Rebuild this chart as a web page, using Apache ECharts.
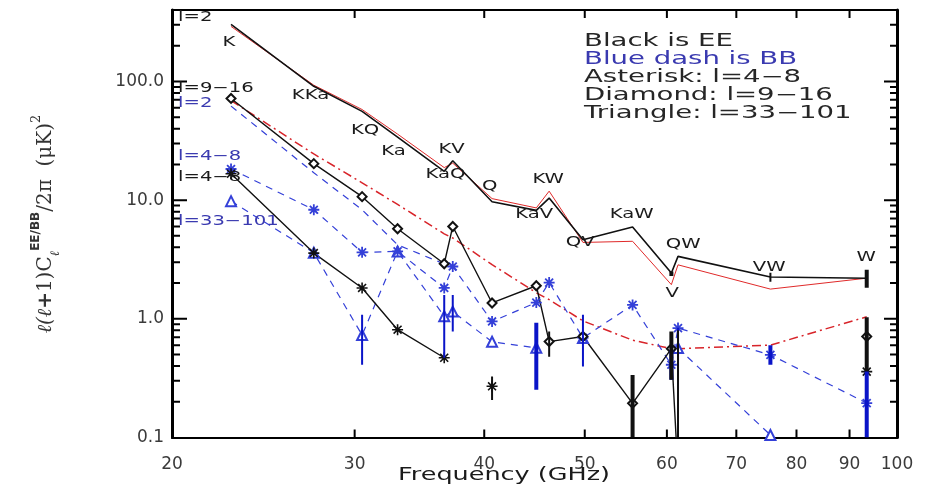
<!DOCTYPE html>
<html>
<head>
<meta charset="utf-8">
<script src="https://cdn.jsdelivr.net/npm/echarts@6/dist/echarts.min.js"></script>
<style>
html,body{margin:0;padding:0;background:#fff;}
#chart{width:938px;height:495px;}
</style>
</head>
<body>
<div id="chart"></div>
<script>
// Cross-spectrum band pairs and their effective frequencies (GHz)
const bands = ['K','KKa','KQ','Ka','KaQ','KV','Q','KaV','KW','QV','KaW','V','QW','VW','W'];
const freqs = [22.8, 27.4, 30.5, 33.0, 36.6, 37.3, 40.7, 44.9, 46.2, 49.8, 55.6, 60.6, 61.5, 75.5, 93.5];

// EE, l=2 (black) and its companion curve (thin red)
const eeL2    = [303, 91, 56, 34, 17.5, 21.5, 9.7, 8.2, 10.4, 4.64, 5.94, 2.43, 3.36, 2.25, 2.20];
const eeL2Red = [291, 93, 58, 36, 18.8, 20.5, 10.3, 8.6, 11.9, 4.4, 4.5, 1.94, 2.85, 1.78, 2.20];
// red dash-dot reference curve
const refCurve = [69, 24.5, 14.0, 9.2, 5.2, 4.8, 2.86, 1.66, 1.45, 0.96, 0.66, 0.56, 0.56, 0.60, 1.04];
// EE, l=9-16 (diamonds) and l=4-8 (asterisks); null = not plotted
const eeL916 = [71.9, 20.3, 10.7, 5.74, 2.91, 6.0, 1.36, 1.9, 0.643, 0.71, 0.194, 0.56, 0.05, null, 0.71];
const eeL48  = [16.7, 3.58, 1.82, 0.81, 0.47, null, 0.27, null, null, null, null, null, null, null, 0.359];
// BB (blue dashed): l=2, l=4-8 (asterisks), l=33-101 (triangles)
const bbL2    = [62, 17, 8.3, 4.2, 2.9, 2.76, null, null, null, null, null, null, null, null, null];
const bbL48   = [18.3, 8.3, 3.63, 3.70, 1.82, 2.76, 0.95, 1.37, 2.02, 0.69, 1.31, 0.41, 0.835, 0.497, 0.195];
const bbL33   = [9.8, 3.6, 0.73, 3.7, 1.05, 1.15, 0.64, 0.57, null, 0.69, null, null, 0.567, 0.105, null];

// error bars: [frequency, low, high]
const bbErrThin  = [[30.5,0.41,1.08],[36.6,0.47,1.59],[37.3,0.78,1.59],[49.8,0.396,1.08],[61.5,0.252,0.84]];
const bbErrThick = [[44.9,0.252,0.925],[60.6,0.306,0.547],[75.5,0.41,0.60],[93.5,0.1,0.364]];
const eeErrThin  = [[40.7,0.207,0.326],[46.2,0.48,0.78],[61.5,0.1,0.8],[75.5,2.05,2.44]];
const eeErrThick = [[55.6,0.1,0.337],[60.6,0.306,0.78],[93.5,0.36,1.03],[93.5,1.83,2.59],[60.6,2.3,2.5]];

// axis ranges, ticks and labels
const xRange  = [20, 100];
const yRange  = [0.1, 400];
const xLabels = [20, 30, 40, 50, 60, 70, 80, 90, 100];
const xTicks  = [30, 40, 50, 60, 70, 80, 90];
const yMajor  = [0.1, 1, 10, 100];
const yMinor  = [0.2,0.3,0.4,0.5,0.6,0.7,0.8,0.9, 2,3,4,5,6,7,8,9, 20,30,40,50,60,70,80,90, 200,300];

// text annotations: [text, frequency, value, colour key, align]
const annotations = [
  ['l=2', 20.27, 347, 'k', 'left'],
  ['l=9\u221216', 20.27, 87.3, 'k', 'left'],
  ['l=2', 20.27, 65.2, 'b', 'left'],
  ['l=4\u22128', 20.27, 23.3, 'b', 'left'],
  ['l=4\u22128', 20.27, 15.5, 'k', 'left'],
  ['l=33\u2212101', 20.27, 6.59, 'b', 'left'],
  ['K', 22.7, 213, 'k', 'center'],
  ['KKa', 27.2, 76.2, 'k', 'center'],
  ['KQ', 30.7, 38.6, 'k', 'center'],
  ['Ka', 32.7, 25.6, 'k', 'center'],
  ['KV', 37.2, 26.7, 'k', 'center'],
  ['KaQ', 36.7, 16.4, 'k', 'center'],
  ['Q', 40.5, 13.0, 'k', 'center'],
  ['KW', 46.1, 14.9, 'k', 'center'],
  ['KaV', 44.7, 7.55, 'k', 'center'],
  ['QV', 49.5, 4.37, 'k', 'center'],
  ['KaW', 55.5, 7.55, 'k', 'center'],
  ['QW', 62.2, 4.21, 'k', 'center'],
  ['V', 60.7, 1.63, 'k', 'center'],
  ['VW', 75.3, 2.69, 'k', 'center'],
  ['W', 93.4, 3.27, 'k', 'center']
];

const legendLines = [
  ['Black is EE', 'k'],
  ['Blue dash is BB', 'b'],
  ['Asterisk: l=4\u22128', 'k'],
  ['Diamond: l=9\u221216', 'k'],
  ['Triangle: l=33\u2212101', 'k']
];

const BLACK = '#111111', BLUE = '#3440d8', BLUE_TXT = '#3a3ab0', RED = '#e02a2a';
const ASTERISK = 'path://M5 0L5 10M0 5L10 5M1.4 1.4L8.6 8.6M1.4 8.6L8.6 1.4';
const FONT = 'DejaVu Sans, sans-serif';
const W = 938, H = 495;
const GRID = { left: 172, right: 41, top: 10, bottom: 57.5 };

const pair = vals => freqs.map((f, i) => [f, vals[i] == null ? '-' : vals[i]]);

function lineSeries(name, vals, o) {
  return Object.assign({
    name, type: 'line', data: pair(vals), connectNulls: false, clip: true,
    symbol: 'none', z: 3
  }, o);
}

// vertical segments: rows of [x, yLow, yHigh]
function errSeries(name, rows, color, width) {
  return {
    name, type: 'custom', data: rows, clip: true, z: 4,
    encode: { x: 0, y: [1, 2] },
    renderItem(params, api) {
      const a = api.coord([api.value(0), api.value(2)]);
      const b = api.coord([api.value(0), api.value(1)]);
      return { type: 'line', shape: { x1: a[0], y1: a[1], x2: b[0], y2: b[1] },
               style: { stroke: color, lineWidth: width } };
    }
  };
}

// inward tick marks, drawn as broken polylines through the axis scales;
// a pixel length becomes a factor along each log axis
const xDecPerPx = Math.log10(xRange[1] / xRange[0]) / (W - GRID.left - GRID.right);
const yDecPerPx = Math.log10(yRange[1] / yRange[0]) / (H - GRID.top - GRID.bottom);
const yFac = px => Math.pow(10, px * yDecPerPx);
const xFac = px => Math.pow(10, px * xDecPerPx);

const tickPath = [];
function addSeg(a, b) { tickPath.push(a, b, [b[0], '-']); }
xTicks.forEach(f => {
  addSeg([f, yRange[0]], [f, yRange[0] * yFac(8)]);
  addSeg([f, yRange[1] / yFac(8)], [f, yRange[1]]);
});
yMajor.slice(1).forEach(v => {
  addSeg([xRange[0], v], [xRange[0] * xFac(15), v]);
  addSeg([xRange[1] / xFac(13), v], [xRange[1], v]);
});
yMinor.forEach(v => {
  addSeg([xRange[0], v], [xRange[0] * xFac(8), v]);
  addSeg([xRange[1] / xFac(7), v], [xRange[1], v]);
});

const logX = (extra) => Object.assign({
  type: 'log', logBase: 10, min: xRange[0], max: xRange[1], splitLine: { show: false },
  minorTick: { show: false }, axisTick: { show: false }
}, extra);
const logY = (extra) => Object.assign({
  type: 'log', logBase: 10, min: yRange[0], max: yRange[1], splitLine: { show: false },
  minorTick: { show: false }, axisTick: { show: false }
}, extra);

const chart = echarts.init(document.getElementById('chart'));
chart.setOption({
  animation: false,
  backgroundColor: '#ffffff',
  grid: Object.assign({ containLabel: false, outerBoundsMode: 'none' }, GRID),
  xAxis: [
    logX({ position: 'bottom',
      axisLine: { show: true, lineStyle: { color: '#000', width: 2 } },
      axisLabel: { show: true, customValues: xLabels, margin: 19, color: '#3a3a3a', fontSize: 17, fontFamily: FONT,
                   formatter: v => String(Math.round(v)) } }),
    logX({ position: 'top',
      axisLine: { show: true, lineStyle: { color: '#000', width: 2 } },
      axisLabel: { show: false } })
  ],
  yAxis: [
    logY({ position: 'left',
      axisLine: { show: true, lineStyle: { color: '#000', width: 3 } },
      axisLabel: { show: true, customValues: yMajor, margin: 8, color: '#3a3a3a', fontSize: 17, fontFamily: FONT,
                   formatter: v => (v < 0.5 ? '0.1' : Number(v).toFixed(1)) } }),
    logY({ position: 'right',
      axisLine: { show: true, lineStyle: { color: '#000', width: 3 } },
      axisLabel: { show: false } })
  ],
  series: [
    { name: 'frame ticks', type: 'line', data: tickPath, connectNulls: false, clip: false,
      symbol: 'none', z: 5, silent: true, lineStyle: { color: '#000', width: 2 } },
    lineSeries('EE l=2 (companion)', eeL2Red, { lineStyle: { color: RED, width: 1 } }),
    lineSeries('EE l=2', eeL2, { lineStyle: { color: BLACK, width: 1.6 } }),
    lineSeries('Reference curve', refCurve, { lineStyle: { color: '#d8242a', width: 1.5, type: [9, 4, 2, 4] } }),
    lineSeries('BB l=2', bbL2, { lineStyle: { color: BLUE, width: 1.2, type: [7, 6] } }),
    lineSeries('BB l=33-101', bbL33, { symbol: 'emptyTriangle', symbolSize: 10,
      itemStyle: { color: BLUE, borderWidth: 1.3 }, lineStyle: { color: BLUE, width: 1.2, type: [7, 6] } }),
    lineSeries('BB l=4-8', bbL48, { symbol: ASTERISK, symbolSize: 11, symbolKeepAspect: true,
      itemStyle: { color: BLUE, borderColor: BLUE, borderWidth: 1.8 }, lineStyle: { color: BLUE, width: 1.2, type: [7, 6] } }),
    lineSeries('EE l=9-16', eeL916, { symbol: 'emptyDiamond', symbolSize: 9,
      itemStyle: { color: BLACK, borderWidth: 1.3 }, lineStyle: { color: BLACK, width: 1.4 } }),
    lineSeries('EE l=4-8', eeL48, { symbol: ASTERISK, symbolSize: 11, symbolKeepAspect: true,
      itemStyle: { color: BLACK, borderColor: BLACK, borderWidth: 1.6 }, lineStyle: { color: BLACK, width: 1.4 } }),
    errSeries('BB error (thin)', bbErrThin, '#0a14c8', 2),
    errSeries('BB error (thick)', bbErrThick, '#0a14c8', 4),
    errSeries('EE error (thin)', eeErrThin, BLACK, 2),
    errSeries('EE error (thick)', eeErrThick, BLACK, 4)
  ]
});

const toPx = (f, v) => chart.convertToPixel({ seriesIndex: 1 }, [f, v]);
const graphics = [];

// text placed in data coordinates through the chart's own scales
annotations.forEach(([text, f, v, c, align]) => {
  const p = toPx(f, v);
  graphics.push({
    type: 'text', x: p[0], y: p[1], scaleX: 1.4, z: 10,
    style: { text, fill: c === 'b' ? BLUE_TXT : '#1a1a1a', font: '14px ' + FONT,
             align, textAlign: align, verticalAlign: 'middle', textVerticalAlign: 'middle' }
  });
});
// key text, upper right
legendLines.forEach(([text, c], i) => {
  graphics.push({
    type: 'text', x: 584, y: 42 + i * 17.8, scaleX: 1.62, z: 10,
    style: { text, fill: c === 'b' ? BLUE_TXT : '#262626', font: '17px ' + FONT,
             align: 'left', textAlign: 'left', verticalAlign: 'middle', textVerticalAlign: 'middle' }
  });
});
// axis titles
graphics.push({
  type: 'text', x: 504, y: 476, scaleX: 1.5, z: 10,
  style: { text: 'Frequency (GHz)', fill: '#1a1a1a', font: '17px ' + FONT,
           align: 'center', textAlign: 'center', verticalAlign: 'middle', textVerticalAlign: 'middle' }
});
graphics.push({
  type: 'text', x: 46, y: 224, rotation: Math.PI / 2, z: 10,
  style: {
    text: '{it|\u2113(\u2113}{b|+}{rm|1)C}{sub|\u2113}{sup|EE/BB}{rm|/2\u03c0  (\u03bcK)}{sup2|2}',
    fill: '#333', align: 'center', textAlign: 'center', verticalAlign: 'middle', textVerticalAlign: 'middle',
    rich: {
      it:   { fontFamily: 'DejaVu Serif', fontStyle: 'italic', fontSize: 20, lineHeight: 32, fill: '#333' },
      b:    { fontFamily: FONT, fontWeight: 'bold', fontSize: 20, lineHeight: 32, fill: '#333' },
      rm:   { fontFamily: 'DejaVu Serif', fontSize: 20, lineHeight: 32, fill: '#333' },
      sub:  { fontFamily: 'DejaVu Serif', fontStyle: 'italic', fontSize: 13, lineHeight: 15, verticalAlign: 'bottom', fill: '#333' },
      sup:  { fontFamily: FONT, fontWeight: 'bold', fontSize: 12, lineHeight: 15, verticalAlign: 'top', fill: '#333' },
      sup2: { fontFamily: 'DejaVu Serif', fontSize: 13, lineHeight: 15, verticalAlign: 'top', fill: '#333' }
    }
  }
});
chart.setOption({ graphic: graphics });
</script>
</body>
</html>
